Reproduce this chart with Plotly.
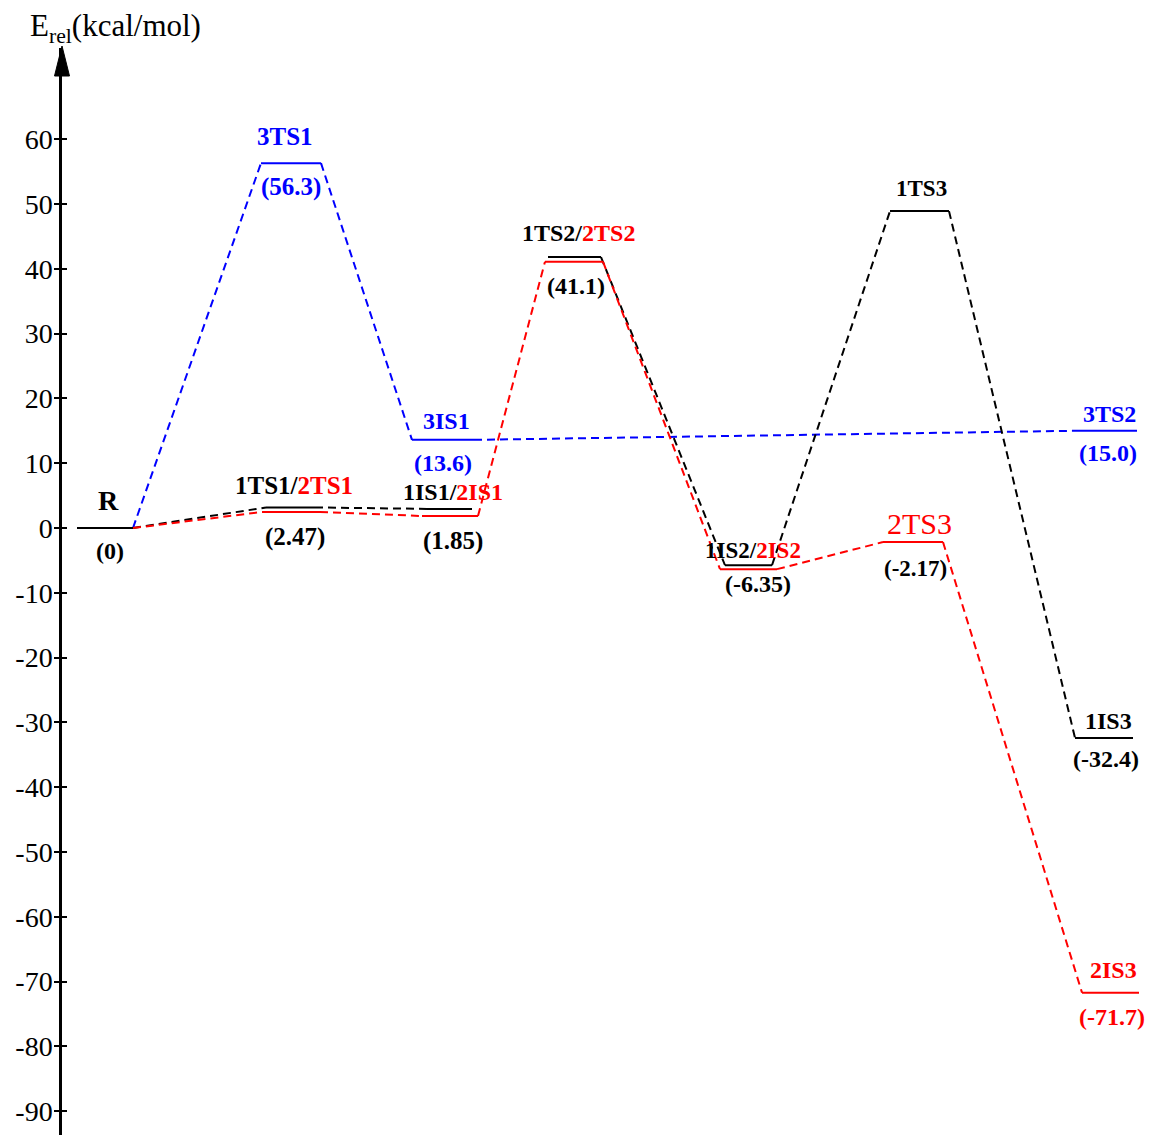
import plotly.graph_objects as go

# ---- Energy profile data (kcal/mol), reaction coordinate in arbitrary units ----
# Singlet surface (black)
singlet_names = ["R", "1TS1", "1IS1", "1TS2", "1IS2", "1TS3", "1IS3"]
singlet_left = [0.77, 2.66, 4.27, 5.48, 7.25, 8.90, 10.75]
singlet_right = [1.33, 3.15, 4.72, 6.01, 7.72, 9.49, 11.33]
singlet_energy = [0.0, 3.17, 2.95, 41.8, -5.75, 48.9, -32.4]
singlet_links = [(0, 1), (1, 2), (3, 4), (4, 5), (5, 6)]

# Doublet surface (red)
doublet_names = ["R", "2TS1", "2IS1", "2TS2", "2IS2", "2TS3", "2IS3"]
doublet_left = [0.77, 2.62, 4.22, 5.45, 7.20, 8.83, 10.82]
doublet_right = [1.33, 3.20, 4.78, 6.03, 7.77, 9.43, 11.39]
doublet_energy = [0.0, 2.47, 1.85, 41.1, -6.35, -2.17, -71.7]
doublet_links = [(0, 1), (1, 2), (2, 3), (3, 4), (4, 5), (5, 6)]

# Triplet surface (blue)
triplet_names = ["R", "3TS1", "3IS1", "3TS2"]
triplet_left = [0.77, 2.61, 4.12, 10.73]
triplet_right = [1.33, 3.21, 4.74, 11.37]
triplet_energy = [0.0, 56.3, 13.6, 15.0]
triplet_links = [(0, 1), (1, 2), (2, 3)]

y_ticks = [60, 50, 40, 30, 20, 10, 0, -10, -20, -30, -40, -50, -60, -70, -80, -90]
y_tick_labels = [str(v) for v in y_ticks]

BLACK, RED, BLUE = "#000000", "#ff0000", "#0000ff"
FONT = "Liberation Serif"

surfaces = {
    "S": dict(left=singlet_left, right=singlet_right, e=singlet_energy,
              links=singlet_links, color=BLACK, first=0),
    "D": dict(left=doublet_left, right=doublet_right, e=doublet_energy,
              links=doublet_links, color=RED, first=1),
    "T": dict(left=triplet_left, right=triplet_right, e=triplet_energy,
              links=triplet_links, color=BLUE, first=1),
}

fig = go.Figure()

# dashed connectors first, solid levels on top
for key in ["T", "S", "D"]:
    s = surfaces[key]
    xs, ys = [], []
    for a, b in s["links"]:
        xs += [s["right"][a], s["left"][b], None]
        ys += [s["e"][a], s["e"][b], None]
    fig.add_trace(go.Scatter(x=xs, y=ys, mode="lines", hoverinfo="skip",
                             line=dict(color=s["color"], width=2, dash="8px,5px"),
                             showlegend=False))
for key in ["T", "S", "D"]:
    s = surfaces[key]
    xs, ys = [], []
    for i in range(s["first"], len(s["e"])):
        xs += [s["left"][i], s["right"][i], None]
        ys += [s["e"][i], s["e"][i], None]
    fig.add_trace(go.Scatter(x=xs, y=ys, mode="lines", hoverinfo="skip",
                             line=dict(color=s["color"], width=2),
                             showlegend=False))

# carrier trace for the inward tick axis
fig.add_trace(go.Scatter(x=[None], y=[None], yaxis="y2", showlegend=False,
                         hoverinfo="skip"))


def centre(key, i):
    s = surfaces[key]
    return (s["left"][i] + s["right"][i]) / 2, s["e"][i]


def red(t):
    return f"<span style='color:{RED}'>{t}</span>"


# (text, surface, index, dx px, dy px, size, colour)
labels = [
    ("<b>R</b>", "S", 0, 3, 27, 28, BLACK),
    ("<b>(0)</b>", "S", 0, 5, -23, 24, BLACK),
    ("<b>3TS1</b>", "T", 1, -6, 27, 25, BLUE),
    ("<b>(56.3)</b>", "T", 1, 0, -24, 25, BLUE),
    (f"<b>1TS1/{red('2TS1')}</b>", "S", 1, 3, 22, 25, BLACK),
    ("<b>(2.47)</b>", "D", 1, 4, -25, 25, BLACK),
    ("<b>3IS1</b>", "T", 2, 3, 19, 24, BLUE),
    ("<b>(13.6)</b>", "T", 2, 0, -23, 24, BLUE),
    (f"<b>1IS1/{red('2IS1')}</b>", "S", 2, 3, 17, 24, BLACK),
    ("<b>(1.85)</b>", "D", 2, 3, -25, 25, BLACK),
    (f"<b>1TS2/{red('2TS2')}</b>", "S", 3, 4, 24, 24, BLACK),
    ("<b>(41.1)</b>", "D", 3, 2, -24, 24, BLACK),
    (f"<b>1IS2/{red('2IS2')}</b>", "S", 4, 4, 15, 23, BLACK),
    ("<b>(-6.35)</b>", "D", 4, 9, -15, 24, BLACK),
    ("<b>1TS3</b>", "S", 5, 2, 23, 23, BLACK),
    ("2TS3", "D", 5, 6, 19, 30, RED),
    ("<b>(-2.17)</b>", "D", 5, 2, -26, 23, BLACK),
    ("<b>3TS2</b>", "T", 3, 4, 17, 24, BLUE),
    ("<b>(15.0)</b>", "T", 3, 3, -22, 24, BLUE),
    ("<b>1IS3</b>", "S", 6, 4, 17, 24, BLACK),
    ("<b>(-32.4)</b>", "S", 6, 2, -21, 24, BLACK),
    ("<b>2IS3</b>", "D", 6, 3, 23, 24, RED),
    ("<b>(-71.7)</b>", "D", 6, 1, -24, 24, RED),
]
for text, key, i, dx, dy, size, col in labels:
    x, y = centre(key, i)
    fig.add_annotation(x=x, y=y, text=text, showarrow=False, xshift=dx, yshift=dy,
                       xanchor="center", yanchor="middle",
                       font=dict(family=FONT, size=size, color=col))

W, H = 1149, 1135
ML, MT = 62, 48
PW, PH = W - ML, H - MT


def px(xp):
    return (xp - ML) / PW


def py(yp):
    return (H - yp) / PH


# axis title
fig.add_annotation(xref="paper", yref="paper", x=px(28), y=py(28),
                   xanchor="left", yanchor="middle", showarrow=False,
                   text="E<sub>rel</sub>(kcal/mol)",
                   font=dict(family=FONT, size=31, color=BLACK))

# arrow head on the energy axis
tip, base, half = py(46), py(76), 7.5
fig.add_shape(type="path", xref="paper", yref="paper",
              path=f"M {px(ML - half)},{base} L {px(ML)},{tip} L {px(ML + half)},{base} Z",
              fillcolor=BLACK, line=dict(color=BLACK, width=1))

y_range = [-93.67, 74.07]
fig.update_layout(
    width=W, height=H,
    margin=dict(l=ML, r=0, t=MT, b=0, pad=0),
    paper_bgcolor="white", plot_bgcolor="white",
    xaxis=dict(visible=False, range=[0.62, 11.49]),
    yaxis=dict(range=y_range, tickvals=y_ticks, ticktext=y_tick_labels,
               showgrid=False, zeroline=False, showline=True, linewidth=2.5,
               linecolor=BLACK, ticks="outside", ticklen=5, tickwidth=2,
               tickcolor=BLACK, ticklabelstandoff=-4,
               tickfont=dict(family=FONT, size=28, color=BLACK)),
    yaxis2=dict(range=y_range, tickvals=y_ticks, overlaying="y", side="left",
                showgrid=False, zeroline=False, showline=False,
                ticks="inside", ticklen=5, tickwidth=2, tickcolor=BLACK,
                showticklabels=False),
)

fig.write_html("out.html")
